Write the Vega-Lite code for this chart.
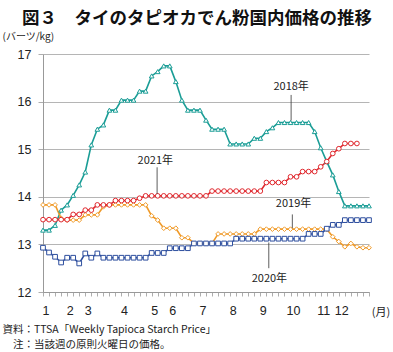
{
  "$schema": "https://vega.github.io/schema/vega-lite/v6.json",
  "autosize": "none",
  "width": 326,
  "height": 238,
  "padding": {"left": 43, "top": 54, "right": 24, "bottom": 60},
  "background": "white",
  "config": {"view": {"stroke": null}, "font": "Noto Sans CJK JP"},
  "title": {"text": "図３　タイのタピオカでん粉国内価格の推移", "font": "Noto Sans CJK JP", "fontSize": 17.5, "fontWeight": "bold", "color": "#111111", "anchor": "middle", "frame": "group", "dx": -9, "offset": 4},
  "datasets": {
    "weeks": [
      {"w":1,"y2018":13.30,"y2019":13.83,"y2020":12.93,"y2021":13.52},
      {"w":2,"y2018":13.30,"y2019":13.83,"y2020":12.83,"y2021":13.52},
      {"w":3,"y2018":13.40,"y2019":13.83,"y2020":12.74,"y2021":13.52},
      {"w":4,"y2018":13.72,"y2019":13.55,"y2020":12.62,"y2021":13.52},
      {"w":5,"y2018":13.83,"y2019":13.51,"y2020":12.72,"y2021":13.52},
      {"w":6,"y2018":14.03,"y2019":13.51,"y2020":12.72,"y2021":13.63},
      {"w":7,"y2018":14.25,"y2019":13.51,"y2020":12.60,"y2021":13.63},
      {"w":8,"y2018":14.52,"y2019":13.62,"y2020":12.81,"y2021":13.72},
      {"w":9,"y2018":15.09,"y2019":13.62,"y2020":12.72,"y2021":13.72},
      {"w":10,"y2018":15.42,"y2019":13.62,"y2020":12.81,"y2021":13.83},
      {"w":11,"y2018":15.51,"y2019":13.79,"y2020":12.72,"y2021":13.83},
      {"w":12,"y2018":15.82,"y2019":13.83,"y2020":12.72,"y2021":13.83},
      {"w":13,"y2018":15.82,"y2019":13.83,"y2020":12.72,"y2021":13.92},
      {"w":14,"y2018":16.03,"y2019":13.83,"y2020":12.72,"y2021":13.92},
      {"w":15,"y2018":16.03,"y2019":13.83,"y2020":12.72,"y2021":13.92},
      {"w":16,"y2018":16.03,"y2019":13.83,"y2020":12.72,"y2021":13.92},
      {"w":17,"y2018":16.22,"y2019":13.83,"y2020":12.72,"y2021":13.97},
      {"w":18,"y2018":16.22,"y2019":13.83,"y2020":12.72,"y2021":14.02},
      {"w":19,"y2018":16.54,"y2019":13.60,"y2020":12.82,"y2021":14.02},
      {"w":20,"y2018":16.63,"y2019":13.51,"y2020":12.82,"y2021":14.02},
      {"w":21,"y2018":16.75,"y2019":13.34,"y2020":12.82,"y2021":14.02},
      {"w":22,"y2018":16.75,"y2019":13.34,"y2020":12.92,"y2021":14.02},
      {"w":23,"y2018":16.42,"y2019":13.34,"y2020":12.92,"y2021":14.02},
      {"w":24,"y2018":16.03,"y2019":13.14,"y2020":12.92,"y2021":14.02},
      {"w":25,"y2018":15.82,"y2019":13.14,"y2020":12.92,"y2021":14.02},
      {"w":26,"y2018":15.82,"y2019":13.02,"y2020":13.02,"y2021":14.02},
      {"w":27,"y2018":15.82,"y2019":13.02,"y2020":13.02,"y2021":14.02},
      {"w":28,"y2018":15.61,"y2019":13.02,"y2020":13.02,"y2021":14.02},
      {"w":29,"y2018":15.42,"y2019":13.02,"y2020":13.02,"y2021":14.12},
      {"w":30,"y2018":15.42,"y2019":13.22,"y2020":13.02,"y2021":14.12},
      {"w":31,"y2018":15.42,"y2019":13.22,"y2020":13.02,"y2021":14.12},
      {"w":32,"y2018":15.11,"y2019":13.22,"y2020":13.02,"y2021":14.12},
      {"w":33,"y2018":15.11,"y2019":13.22,"y2020":13.12,"y2021":14.12},
      {"w":34,"y2018":15.11,"y2019":13.22,"y2020":13.12,"y2021":14.12},
      {"w":35,"y2018":15.11,"y2019":13.22,"y2020":13.12,"y2021":14.12},
      {"w":36,"y2018":15.23,"y2019":13.22,"y2020":13.12,"y2021":14.12},
      {"w":37,"y2018":15.23,"y2019":13.32,"y2020":13.12,"y2021":14.12},
      {"w":38,"y2018":15.37,"y2019":13.32,"y2020":13.12,"y2021":14.30},
      {"w":39,"y2018":15.45,"y2019":13.32,"y2020":13.12,"y2021":14.30},
      {"w":40,"y2018":15.56,"y2019":13.32,"y2020":13.12,"y2021":14.30},
      {"w":41,"y2018":15.56,"y2019":13.32,"y2020":13.12,"y2021":14.30},
      {"w":42,"y2018":15.56,"y2019":13.32,"y2020":13.12,"y2021":14.42},
      {"w":43,"y2018":15.56,"y2019":13.32,"y2020":13.12,"y2021":14.42},
      {"w":44,"y2018":15.56,"y2019":13.32,"y2020":13.12,"y2021":14.53},
      {"w":45,"y2018":15.56,"y2019":13.32,"y2020":13.22,"y2021":14.53},
      {"w":46,"y2018":15.37,"y2019":13.32,"y2020":13.22,"y2021":14.53},
      {"w":47,"y2018":15.03,"y2019":13.32,"y2020":13.22,"y2021":14.63},
      {"w":48,"y2018":14.74,"y2019":13.32,"y2020":13.33,"y2021":14.74},
      {"w":49,"y2018":14.46,"y2019":13.16,"y2020":13.41,"y2021":14.91},
      {"w":50,"y2018":14.11,"y2019":13.06,"y2020":13.41,"y2021":15.01},
      {"w":51,"y2018":13.81,"y2019":12.95,"y2020":13.51,"y2021":15.12},
      {"w":52,"y2018":13.81,"y2019":13.02,"y2020":13.51,"y2021":15.12},
      {"w":53,"y2018":13.81,"y2019":12.95,"y2020":13.51,"y2021":15.12},
      {"w":54,"y2018":13.81,"y2019":12.93,"y2020":13.51},
      {"w":55,"y2018":13.81,"y2019":12.93,"y2020":13.51}
    ],
    "labels": [
      {"label":"2018年","w":42.1,"price":16.31},
      {"label":"2021年","w":19.6,"price":14.75},
      {"label":"2019年","w":42.5,"price":13.85},
      {"label":"2020年","w":38.5,"price":12.27},
      {"label":"(月)","w":57.0,"price":11.56}
    ],
    "leaders": [
      {"w":42.1,"price":16.14,"p2":15.6},
      {"w":19.9,"price":14.62,"p2":14.06},
      {"w":42.3,"price":13.63,"p2":13.34},
      {"w":38.4,"price":13.04,"p2":12.5}
    ]
  },
  "encoding": {
    "x": {"field": "w", "type": "quantitative",
      "scale": {"domain": [1, 55], "nice": false, "zero": false},
      "axis": {
        "values": [1,2,3,4,5,6,7,8,9,10,11,12,13,14,15,16,17,18,19,20,21,22,23,24,25,26,27,28,29,30,31,32,33,34,35,36,37,38,39,40,41,42,43,44,45,46,47,48,49,50,51,52,53,54,55],
        "labelExpr": "datum.value == 1 ? '1' : datum.value == 5 ? '2' : datum.value == 8 ? '3' : datum.value == 14 ? '4' : datum.value == 19 ? '5' : datum.value == 22 ? '6' : datum.value == 27 ? '7' : datum.value == 32 ? '8' : datum.value == 37 ? '9' : datum.value == 42 ? '10' : datum.value == 47 ? '11' : datum.value == 50 ? '12' : ''",
        "labelOffset": 2.5,
        "labelFlush": false, "labelOverlap": false, "labelBound": false,
        "labelFont": "Liberation Sans", "labelFontSize": 12.5, "labelColor": "#222222", "labelPadding": 8,
        "tickSize": 4, "tickColor": "#999999", "tickWidth": 0.8,
        "domainColor": "#999999", "domainWidth": 1, "grid": false,
        "title": ["資料：TTSA「Weekly Tapioca Starch Price」", "\u200b　注：当該週の原則火曜日の価格。"],
        "titleFont": "Noto Sans CJK JP", "titleFontSize": 10.5, "titleFontWeight": "normal", "titleColor": "#222222",
        "titleAlign": "left", "titleBaseline": "top", "titleAnchor": "start", "titleX": -41, "titleY": 32, "titleLineHeight": 15.5
      }
    },
    "y": {"field": "price", "type": "quantitative",
      "scale": {"domain": [12, 17], "nice": false, "zero": false},
      "axis": {
        "values": [12,13,14,15,16,17],
        "labelFont": "Liberation Sans", "labelFontSize": 12.5, "labelColor": "#222222", "labelPadding": 7,
        "tickSize": 5, "tickColor": "#999999", "tickWidth": 0.8,
        "domainColor": "#999999", "domainWidth": 1,
        "grid": true, "gridColor": "#b5b5b5", "gridWidth": 1,
        "title": "(バーツ/kg)", "titleFont": "Noto Sans CJK JP", "titleFontSize": 10, "titleFontWeight": "normal", "titleColor": "#222222",
        "titleAngle": 0, "titleAlign": "left", "titleBaseline": "middle", "titleX": -41, "titleY": -18
      }
    }
  },
  "layer": [
    {
      "data": {"name": "weeks"},
      "transform": [{"fold": ["y2018","y2019","y2020","y2021"], "as": ["series","price"]}],
      "mark": {"type": "line", "strokeWidth": 1.6},
      "encoding": {
        "color": {"field": "series", "type": "nominal",
          "scale": {"domain": ["y2018","y2019","y2020","y2021"], "range": ["#1a9d96","#f09a28","#2d4e9e","#e0282e"]},
          "legend": null},
        "strokeWidth": {"field": "series", "type": "nominal",
          "scale": {"domain": ["y2018","y2019","y2020","y2021"], "range": [2.2, 1.5, 1.5, 1.5]},
          "legend": null}
      }
    },
    {
      "data": {"name": "weeks"},
      "transform": [{"fold": ["y2018","y2019","y2020","y2021"], "as": ["series","price"]}],
      "mark": {"type": "point", "filled": true, "fill": "white", "size": 22, "strokeWidth": 1, "opacity": 1},
      "encoding": {
        "stroke": {"field": "series", "type": "nominal",
          "scale": {"domain": ["y2018","y2019","y2020","y2021"], "range": ["#1a9d96","#f09a28","#2d4e9e","#e0282e"]},
          "legend": null},
        "shape": {"field": "series", "type": "nominal",
          "scale": {"domain": ["y2018","y2019","y2020","y2021"], "range": ["triangle-up","diamond","square","circle"]},
          "legend": null}
      }
    },
    {
      "data": {"name": "leaders"},
      "mark": {"type": "rule", "color": "#333333", "strokeWidth": 0.8},
      "encoding": {
        "y2": {"field": "p2"}
      }
    },
    {
      "data": {"name": "labels"},
      "mark": {"type": "text", "font": "Noto Sans CJK JP", "fontSize": 11, "color": "#222222", "align": "center", "baseline": "middle"},
      "encoding": {
        "text": {"field": "label"}
      }
    }
  ]
}
